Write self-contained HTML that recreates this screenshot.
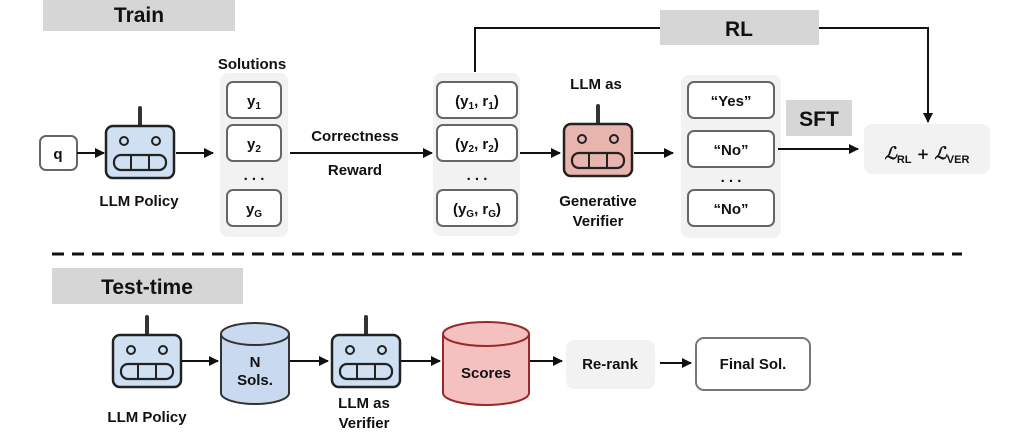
<!DOCTYPE html>
<html><head><meta charset="utf-8"><style>
html,body{margin:0;padding:0;background:#fff;}
svg{display:block;font-family:"Liberation Sans",sans-serif;font-weight:bold;}
</style></head><body>
<svg width="1029" height="439" viewBox="0 0 1029 439" xmlns="http://www.w3.org/2000/svg">
<defs>
<marker id="ah" markerWidth="10" markerHeight="10" refX="9" refY="5" orient="auto" markerUnits="userSpaceOnUse">
<path d="M0,0 L10,5 L0,10 z" fill="#111"/></marker>
<g id="robot">
<line x1="0" y1="-45" x2="0" y2="-27" stroke="#333" stroke-width="4" stroke-linecap="round"/>
<rect x="-34" y="-27" width="68" height="52" rx="7" stroke="#222" stroke-width="2.5"/>
<circle cx="-16" cy="-12" r="4" fill="none" stroke="#222" stroke-width="2"/>
<circle cx="16" cy="-12" r="4" fill="none" stroke="#222" stroke-width="2"/>
<rect x="-26" y="2" width="52" height="15" rx="7" fill="none" stroke="#222" stroke-width="2.2"/>
<line x1="-9" y1="2" x2="-9" y2="17" stroke="#222" stroke-width="2"/>
<line x1="9" y1="2" x2="9" y2="17" stroke="#222" stroke-width="2"/>
</g>
</defs>
<g font-size="15" fill="#111" text-anchor="middle">
<!-- Train label -->
<rect x="43" y="0" width="192" height="31" fill="#d6d6d6"/>
<text x="139" y="22" font-size="21">Train</text>

<!-- q -->
<rect x="40" y="136" width="37" height="34" rx="6" fill="#fff" stroke="#666" stroke-width="2"/>
<text x="58" y="159">q</text>
<line x1="77" y1="153" x2="104" y2="153" stroke="#111" stroke-width="2" marker-end="url(#ah)"/>
<use href="#robot" x="140" y="153" fill="#cfe0f3"/>
<text x="139" y="206">LLM Policy</text>
<line x1="176" y1="153" x2="213" y2="153" stroke="#111" stroke-width="2" marker-end="url(#ah)"/>

<!-- Solutions -->
<text x="252" y="69">Solutions</text>
<rect x="220" y="73" width="68" height="164" rx="8" fill="#f2f2f2"/>
<rect x="227" y="82" width="54" height="36" rx="6" fill="#fff" stroke="#666" stroke-width="2"/>
<text x="254" y="106">y<tspan font-size="10" dy="3">1</tspan></text>
<rect x="227" y="125" width="54" height="36" rx="6" fill="#fff" stroke="#666" stroke-width="2"/>
<text x="254" y="149">y<tspan font-size="10" dy="3">2</tspan></text>
<text x="254" y="180">. . .</text>
<rect x="227" y="190" width="54" height="36" rx="6" fill="#fff" stroke="#666" stroke-width="2"/>
<text x="254" y="214">y<tspan font-size="10" dy="3">G</tspan></text>

<line x1="290" y1="153" x2="432" y2="153" stroke="#111" stroke-width="2" marker-end="url(#ah)"/>
<text x="355" y="141">Correctness</text>
<text x="355" y="175">Reward</text>

<!-- pairs -->
<rect x="433" y="73" width="87" height="163" rx="8" fill="#f2f2f2"/>
<rect x="437" y="82" width="80" height="36" rx="6" fill="#fff" stroke="#666" stroke-width="2"/>
<text x="477" y="106">(y<tspan font-size="10" dy="3">1</tspan><tspan dy="-3">, r</tspan><tspan font-size="10" dy="3">1</tspan><tspan dy="-3">)</tspan></text>
<rect x="437" y="125" width="80" height="36" rx="6" fill="#fff" stroke="#666" stroke-width="2"/>
<text x="477" y="149">(y<tspan font-size="10" dy="3">2</tspan><tspan dy="-3">, r</tspan><tspan font-size="10" dy="3">2</tspan><tspan dy="-3">)</tspan></text>
<text x="477" y="180">. . .</text>
<rect x="437" y="190" width="80" height="36" rx="6" fill="#fff" stroke="#666" stroke-width="2"/>
<text x="477" y="214">(y<tspan font-size="10" dy="3">G</tspan><tspan dy="-3">, r</tspan><tspan font-size="10" dy="3">G</tspan><tspan dy="-3">)</tspan></text>

<!-- RL -->
<polyline points="475,72 475,28 660,28" fill="none" stroke="#111" stroke-width="2"/>
<rect x="660" y="10" width="159" height="35" fill="#d6d6d6"/>
<text x="739" y="36" font-size="21">RL</text>
<polyline points="819,28 928,28 928,122" fill="none" stroke="#111" stroke-width="2" marker-end="url(#ah)"/>

<!-- verifier -->
<line x1="520" y1="153" x2="560" y2="153" stroke="#111" stroke-width="2" marker-end="url(#ah)"/>
<text x="596" y="89">LLM as</text>
<use href="#robot" x="598" y="151" fill="#e8b4ae"/>
<text x="598" y="206">Generative</text>
<text x="598" y="226">Verifier</text>
<line x1="634" y1="153" x2="673" y2="153" stroke="#111" stroke-width="2" marker-end="url(#ah)"/>

<rect x="681" y="75" width="100" height="163" rx="8" fill="#f2f2f2"/>
<rect x="688" y="82" width="86" height="36" rx="6" fill="#fff" stroke="#666" stroke-width="2"/>
<text x="731" y="106">“Yes”</text>
<rect x="688" y="131" width="86" height="36" rx="6" fill="#fff" stroke="#666" stroke-width="2"/>
<text x="731" y="155">“No”</text>
<text x="731" y="182">. . .</text>
<rect x="688" y="190" width="86" height="36" rx="6" fill="#fff" stroke="#666" stroke-width="2"/>
<text x="731" y="214">“No”</text>

<rect x="786" y="100" width="66" height="36" fill="#d6d6d6"/>
<text x="819" y="126" font-size="21">SFT</text>
<line x1="778" y1="149" x2="858" y2="149" stroke="#111" stroke-width="2" marker-end="url(#ah)"/>
<rect x="864" y="124" width="126" height="50" rx="8" fill="#f2f2f2"/>
<text x="927" y="159" font-size="17" font-family="'DejaVu Serif',serif" font-style="italic">ℒ<tspan font-size="11" dy="4" font-family="Liberation Sans" font-style="normal">RL</tspan><tspan dy="-4" font-size="15"> + </tspan>ℒ<tspan font-size="11" dy="4" font-family="Liberation Sans" font-style="normal">VER</tspan></text>

<!-- dashed -->
<line x1="52" y1="254" x2="962" y2="254" stroke="#111" stroke-width="3" stroke-dasharray="12,8"/>

<!-- Test-time -->
<rect x="52" y="268" width="191" height="36" fill="#d6d6d6"/>
<text x="147" y="294" font-size="21">Test-time</text>
<use href="#robot" x="147" y="362" fill="#cfe0f3"/>
<text x="147" y="422">LLM Policy</text>
<line x1="182" y1="361" x2="218" y2="361" stroke="#111" stroke-width="2" marker-end="url(#ah)"/>
<!-- N sols cylinder -->
<path d="M221,334 L221,393 A34,11 0 0 0 289,393 L289,334" fill="#c9d9f0" stroke="#333" stroke-width="2"/>
<ellipse cx="255" cy="334" rx="34" ry="11" fill="#c9d9f0" stroke="#333" stroke-width="2"/>
<text x="255" y="367">N</text>
<text x="255" y="385">Sols.</text>
<line x1="290" y1="361" x2="328" y2="361" stroke="#111" stroke-width="2" marker-end="url(#ah)"/>
<use href="#robot" x="366" y="362" fill="#cfe0f3"/>
<text x="364" y="408">LLM as</text>
<text x="364" y="428">Verifier</text>
<line x1="401" y1="361" x2="440" y2="361" stroke="#111" stroke-width="2" marker-end="url(#ah)"/>
<path d="M443,334 L443,393 A43,12 0 0 0 529,393 L529,334" fill="#f4c0c0" stroke="#9a2a2a" stroke-width="2"/>
<ellipse cx="486" cy="334" rx="43" ry="12" fill="#f4c0c0" stroke="#9a2a2a" stroke-width="2"/>
<text x="486" y="378">Scores</text>
<line x1="530" y1="361" x2="562" y2="361" stroke="#111" stroke-width="2" marker-end="url(#ah)"/>
<rect x="566" y="340" width="89" height="49" rx="8" fill="#f2f2f2"/>
<text x="610" y="369">Re-rank</text>
<line x1="660" y1="363" x2="691" y2="363" stroke="#111" stroke-width="2" marker-end="url(#ah)"/>
<rect x="696" y="338" width="114" height="52" rx="8" fill="#fff" stroke="#777" stroke-width="2"/>
<text x="753" y="369">Final Sol.</text>
</g>
</svg>
</body></html>
